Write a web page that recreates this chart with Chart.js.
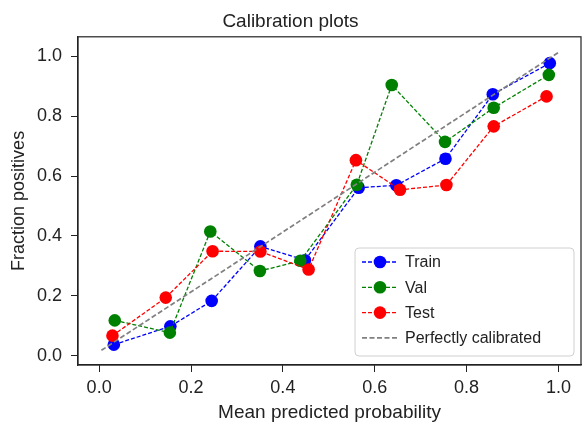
<!DOCTYPE html>
<html>
<head>
<meta charset="utf-8">
<script src="https://cdn.jsdelivr.net/npm/chart.js@4.4.0/dist/chart.umd.min.js"></script>
<style>
  html, body { margin: 0; padding: 0; background: #fff; }
  #wrap { width: 582px; height: 427px; }
</style>
</head>
<body>
<div id="wrap"><canvas id="calib" width="582" height="427"></canvas></div>
<script>
// values
const trainX = [0.032, 0.155, 0.245, 0.351, 0.448, 0.565, 0.647, 0.754, 0.857, 0.981];
const trainY = [0.037, 0.098, 0.183, 0.365, 0.319, 0.561, 0.569, 0.658, 0.873, 0.977];
const valX = [0.034, 0.154, 0.242, 0.350, 0.438, 0.561, 0.637, 0.753, 0.859, 0.979];
const valY = [0.118, 0.077, 0.415, 0.283, 0.317, 0.571, 0.904, 0.714, 0.828, 0.938];
const testX = [0.029, 0.145, 0.247, 0.351, 0.456, 0.559, 0.655, 0.756, 0.859, 0.974];
const testY = [0.067, 0.194, 0.349, 0.348, 0.288, 0.653, 0.554, 0.570, 0.766, 0.866];
const perfectX = [0.005, 1.0];
const perfectY = [0.018, 1.013];
const xTicks = [0, 0.2, 0.4, 0.6, 0.8, 1.0];
const yTicks = [0, 0.2, 0.4, 0.6, 0.8, 1.0];
const seriesNames = ['Train', 'Val', 'Test', 'Perfectly calibrated'];

const BLUE = '#0000ff', GREEN = '#008000', RED = '#ff0000', GRAY = '#808080';
const FONT = 'Liberation Sans, Arial, Helvetica, sans-serif';
const INK = '#222';
const DASH = [4, 2];
const GRAY_DASH = [5, 2.5];

function toPoints(xs, ys) {
    return xs.map((x, i) => ({ x: x, y: ys[i] }));
}

function series(label, xs, ys, color, order) {
    return {
        label: label,
        data: toPoints(xs, ys),
        showLine: true,
        borderColor: color,
        backgroundColor: color,
        borderWidth: 1.3,
        borderDash: DASH,
        pointRadius: 6.3,
        pointHoverRadius: 6.3,
        pointBorderWidth: 0,
        order: order
    };
}

// legend drawn inside the plot, matplotlib style
const insideLegend = {
    id: 'insideLegend',
    afterDatasetsDraw(chart) {
        const ctx = chart.ctx;
        const area = chart.chartArea;
        const w = 219, h = 108;
        const x0 = area.right - 7 - w;
        const y0 = area.bottom - 9 - h;
        const colors = [BLUE, GREEN, RED, GRAY];

        ctx.save();
        ctx.beginPath();
        ctx.roundRect(x0, y0, w, h, 4);
        ctx.fillStyle = 'rgba(255,255,255,0.85)';
        ctx.fill();
        ctx.strokeStyle = '#d0d0d0';
        ctx.lineWidth = 1;
        ctx.stroke();

        ctx.font = '16px ' + FONT;
        ctx.textBaseline = 'middle';
        seriesNames.forEach((name, i) => {
            const cy = y0 + 14 + i * 25.3;
            ctx.strokeStyle = colors[i];
            ctx.lineWidth = i === 3 ? 1.7 : 1.3;
            ctx.setLineDash(i === 3 ? GRAY_DASH : DASH);
            ctx.beginPath();
            ctx.moveTo(x0 + 7, cy);
            ctx.lineTo(x0 + 43, cy);
            ctx.stroke();
            ctx.setLineDash([]);
            if (i < 3) {
                ctx.fillStyle = colors[i];
                ctx.beginPath();
                ctx.arc(x0 + 25, cy, 6.3, 0, Math.PI * 2);
                ctx.fill();
            }
            ctx.fillStyle = INK;
            ctx.fillText(name, x0 + 50, cy + 1);
        });
        ctx.restore();
    }
};

// full box around the plot area
const frameBox = {
    id: 'frameBox',
    beforeDatasetsDraw(chart) {
        const a = chart.chartArea;
        const ctx = chart.ctx;
        ctx.save();
        ctx.strokeStyle = INK;
        ctx.lineWidth = 1.2;
        ctx.strokeRect(a.left, a.top, a.right - a.left, a.bottom - a.top);
        ctx.restore();
    }
};

const ctx = document.getElementById('calib').getContext('2d');

new Chart(ctx, {
    type: 'scatter',
    data: {
        datasets: [
            series(seriesNames[0], trainX, trainY, BLUE, 3),
            series(seriesNames[1], valX, valY, GREEN, 2),
            series(seriesNames[2], testX, testY, RED, 1),
            {
                label: seriesNames[3],
                data: toPoints(perfectX, perfectY),
                showLine: true,
                borderColor: GRAY,
                borderWidth: 1.7,
                borderDash: GRAY_DASH,
                pointRadius: 0,
                order: 0
            }
        ]
    },
    options: {
        responsive: false,
        animation: false,
        layout: { autoPadding: false, padding: { left: 0, right: 1, top: 0, bottom: 0 } },
        plugins: {
            legend: { display: false },
            tooltip: { enabled: false },
            title: {
                display: true,
                text: 'Calibration plots',
                color: INK,
                font: { family: FONT, size: 19, weight: 'normal' },
                padding: { top: 10, bottom: 4 }
            }
        },
        scales: {
            x: {
                type: 'linear',
                min: -0.046,
                max: 1.049,
                afterBuildTicks: axis => { axis.ticks = xTicks.map(v => ({ value: v })); },
                afterFit: axis => {
                    axis.height = 62;
                    axis.paddingLeft = 0;
                    axis.paddingRight = 0;
                },
                grid: { drawOnChartArea: false, drawTicks: true, tickLength: 7, color: INK },
                border: { display: true, color: INK, width: 1.2 },
                ticks: {
                    color: INK,
                    padding: 5,
                    font: { family: FONT, size: 18 },
                    callback: v => v.toFixed(1)
                },
                title: {
                    display: true,
                    text: 'Mean predicted probability',
                    color: INK,
                    font: { family: FONT, size: 19 },
                    padding: { top: 0, bottom: 3 }
                }
            },
            y: {
                type: 'linear',
                min: -0.031,
                max: 1.065,
                afterBuildTicks: axis => { axis.ticks = yTicks.map(v => ({ value: v })); },
                afterFit: axis => {
                    axis.width = 78;
                    axis.paddingTop = 0;
                    axis.paddingBottom = 0;
                },
                grid: { drawOnChartArea: false, drawTicks: true, tickLength: 7, color: INK },
                border: { display: true, color: INK, width: 1.2 },
                ticks: {
                    color: INK,
                    padding: 9,
                    font: { family: FONT, size: 18 },
                    callback: v => v.toFixed(1)
                },
                title: {
                    display: true,
                    text: 'Fraction positives',
                    color: INK,
                    font: { family: FONT, size: 18 },
                    padding: { top: 8, bottom: 0 }
                }
            }
        }
    },
    plugins: [frameBox, insideLegend]
});
</script>
</body>
</html>
